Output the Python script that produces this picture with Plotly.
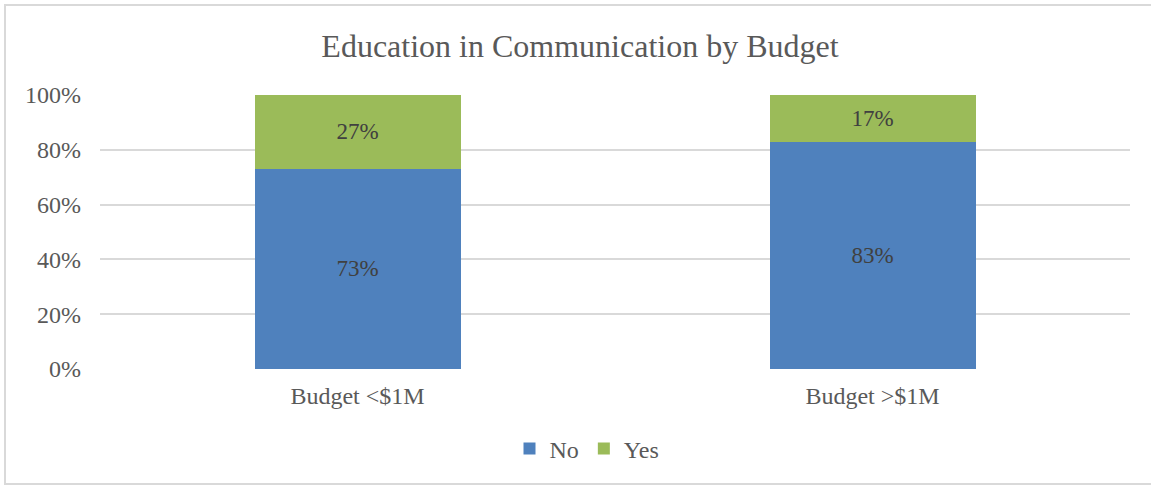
import plotly.graph_objects as go

categories = ["Budget <$1M", "Budget >$1M"]
no_values = [73, 83]
yes_values = [27, 17]
y_ticks = [0, 20, 40, 60, 80, 100]
y_tick_labels = ["0%", "20%", "40%", "60%", "80%", "100%"]

FONT = "Liberation Serif, Times New Roman, serif"
TEXT_GREY = "#595959"
LABEL_GREY = "#404040"

fig = go.Figure()
fig.add_trace(go.Bar(
    name="No", x=categories, y=no_values,
    marker=dict(color="#4F81BD", line=dict(width=0)),
    text=[f"{v}%" for v in no_values], textposition="inside",
    insidetextanchor="middle", textangle=0,
    textfont=dict(family=FONT, size=23, color=LABEL_GREY),
))
fig.add_trace(go.Bar(
    name="Yes", x=categories, y=yes_values,
    marker=dict(color="#9BBB59", line=dict(width=0)),
    text=[f"{v}%" for v in yes_values], textposition="inside",
    insidetextanchor="middle", textangle=0,
    textfont=dict(family=FONT, size=23, color=LABEL_GREY),
))

L, R, T, B = 100, 21, 95, 116
W, H = 1151, 485
pw, ph = W - L - R, H - T - B

def px_x(p):
    return (p - L) / pw

def px_y(p):
    return (H - B - p) / ph

fig.update_layout(
    width=W, height=H,
    margin=dict(l=L, r=R, t=T, b=B),
    paper_bgcolor="white", plot_bgcolor="white",
    barmode="stack", bargap=0.6,
    uniformtext=dict(minsize=22, mode="show"),
    title=dict(
        text="Education in Communication by Budget",
        font=dict(family=FONT, size=32, color=TEXT_GREY),
        x=580 / W, xref="container", xanchor="center",
        y=1 - 46 / H, yref="container", yanchor="middle",
    ),
    font=dict(family=FONT, color=TEXT_GREY),
    xaxis=dict(
        tickfont=dict(family=FONT, size=24, color=TEXT_GREY),
        showgrid=False, zeroline=False, showline=False,
        ticks="outside", ticklen=5, tickcolor="rgba(0,0,0,0)",
    ),
    yaxis=dict(
        range=[0, 100], tickvals=y_ticks, ticktext=y_tick_labels,
        tickfont=dict(family=FONT, size=24, color=TEXT_GREY),
        showgrid=True, gridcolor="#d9d9d9", gridwidth=2,
        zeroline=False, showline=False, ticklabelstandoff=18,
    ),
    legend=dict(
        orientation="h", x=px_x(587), xanchor="center",
        y=px_y(449), yanchor="middle",
        font=dict(family=FONT, size=24, color=TEXT_GREY),
        itemwidth=30, traceorder="normal",
    ),
    shapes=[dict(
        type="rect", xref="paper", yref="paper",
        x0=px_x(5), x1=px_x(1160), y0=px_y(484), y1=px_y(5),
        line=dict(color="#d9d9d9", width=2), layer="below",
    )],
)

fig.write_html("out.html")
